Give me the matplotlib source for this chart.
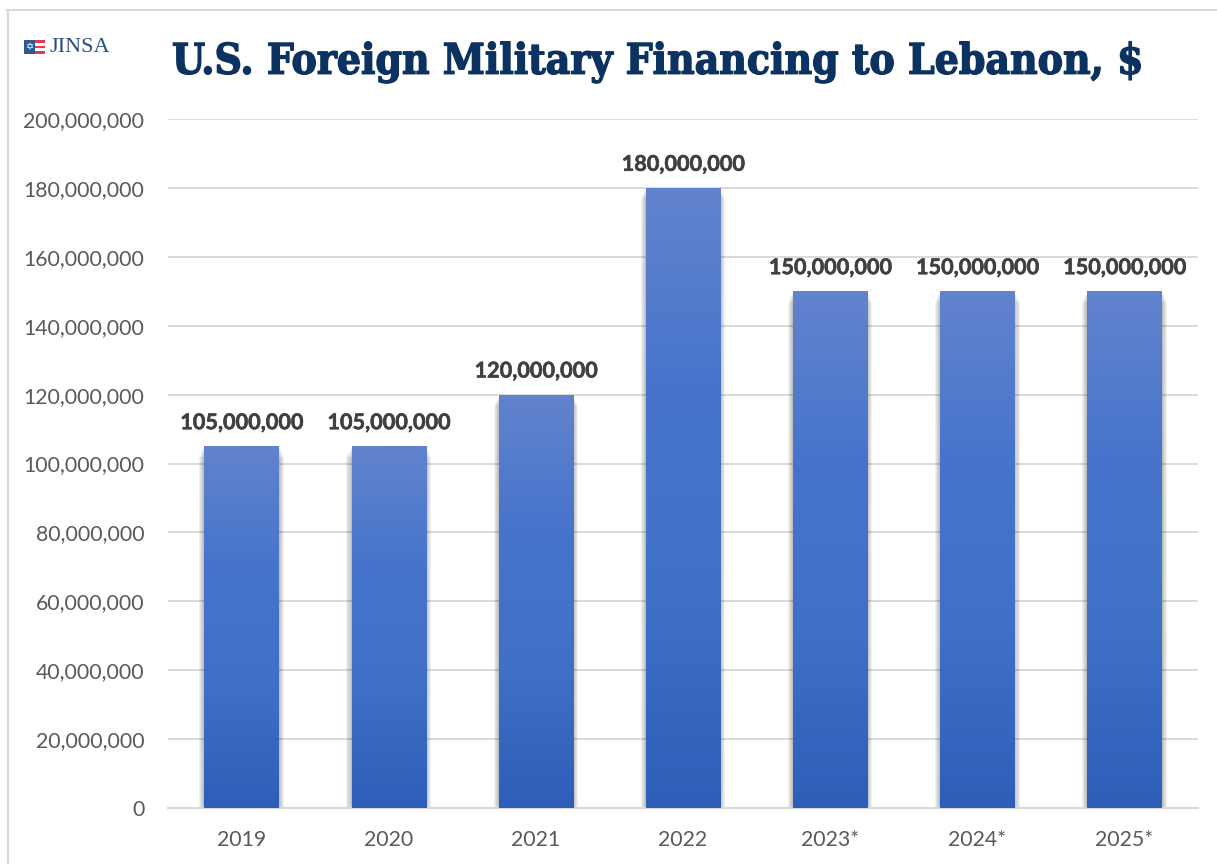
import numpy as np
from matplotlib import pyplot as plt
from matplotlib import patheffects
from matplotlib.colors import LinearSegmentedColormap
from matplotlib.patches import Rectangle

years = ['2019', '2020', '2021', '2022', '2023*', '2024*', '2025*']
fmf = [105000000, 105000000, 120000000, 180000000, 150000000, 150000000, 150000000]
yticks = np.arange(0, 200000001, 20000000)

W, H = 1217, 864
plt.rcParams['font.family'] = ['Lato', 'DejaVu Sans']

fig = plt.figure(figsize=(W/100, H/100), dpi=100)
ax = fig.add_axes([168/W, 1-808/H, (1198-168)/W, (808-119)/H])

# gradient fill, one per bar
grad = LinearSegmentedColormap.from_list('g', ['#2d5fb8', '#3f70c8', '#4674cb', '#6283ce'])
g = np.linspace(0, 1, 256)[::-1].reshape(-1, 1)
width = 0.505
heavy = [patheffects.withStroke(linewidth=0.4, foreground='#404040')]

for i, v in enumerate(fmf):
    # soft shadow
    for k in range(1, 6):
        d = 0.014*k
        ax.bar(i, v+300000*k, width+d, bottom=-900000*k, color='k', alpha=0.055, zorder=2, lw=0)
    b = ax.bar(i, v, width, color='none', zorder=3, lw=0)[0]
    im = ax.imshow(g, cmap=grad, vmin=0, vmax=1, aspect='auto', zorder=3,
                   extent=(i-width/2, i+width/2, 0, v))
    im.set_clip_path(b)
    ax.text(i, v+3800000, f'{v:,}', ha='center', va='bottom', fontsize=15.6,
            fontweight='bold', color='#404040', zorder=5, path_effects=heavy)

ax.set_xlim(-0.5, len(years)-0.5)
ax.set_ylim(0, 200000000)
ax.set_xticks(range(len(years)), years)
ax.set_yticks(yticks, [f'{t:,}' for t in yticks])
ax.tick_params(length=0, labelsize=15.3, labelcolor='#595959')
ax.tick_params(axis='x', pad=16)
ax.tick_params(axis='y', pad=17)
ax.grid(axis='y', color='#d9d9d9', lw=1.4, zorder=1)
ax.set_axisbelow(True)
for s in ['top', 'right', 'left']:
    ax.spines[s].set_visible(False)
ax.spines['bottom'].set_color('#d9d9d9')
ax.spines['bottom'].set_linewidth(1.5)

# title
fig.text(172/W, 1-62/H, 'U.S. Foreign Military Financing to Lebanon, $', family='DejaVu Serif',
         stretch='condensed', fontweight='bold', fontsize=30.4, color='#0b3260', ha='left', va='center',
         path_effects=[patheffects.withStroke(linewidth=1, foreground='#0b3260')])

# outer frame
fig.add_artist(plt.Line2D([7.5/W, 7.5/W], [0, 1-10/H], color='#d9d9d9', lw=1.5))
fig.add_artist(plt.Line2D([7/W, 1], [1-10/H, 1-10/H], color='#d9d9d9', lw=1.5))

# JINSA logo
fig.add_artist(Rectangle((24/W, 1-54/H), 21/W, 14/H, transform=fig.transFigure, color='#e8394a', lw=0))
for y in (43, 48):
    fig.add_artist(Rectangle((24/W, 1-(y+2.5)/H), 21/W, 2.5/H, transform=fig.transFigure, color='white', lw=0))
fig.add_artist(Rectangle((24/W, 1-54/H), 11/W, 14/H, transform=fig.transFigure, color='#2a5a94', lw=0))
fig.text(29.5/W, 1-47/H, '\u2721', family='DejaVu Sans', fontsize=7, color='white', ha='center', va='center')
fig.text(50/W, 1-47/H, 'JINSA', family='Liberation Serif', fontsize=16, color='#2a4f7c', ha='left', va='center')

fig.savefig('out.png', dpi=100)
